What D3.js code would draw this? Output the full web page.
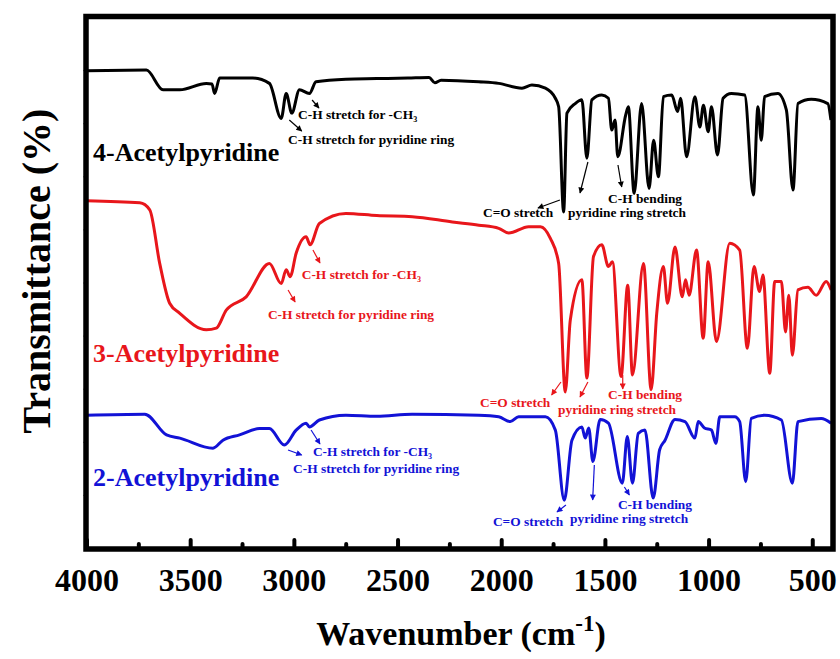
<!DOCTYPE html>
<html>
<head>
<meta charset="utf-8">
<script src="https://cdn.jsdelivr.net/npm/d3@7.9.0/dist/d3.min.js"></script>
<style>
  body { margin: 0; background: #fff; }
  svg { display: block; font-family: "Liberation Serif", "Times New Roman", serif; font-weight: bold; }
</style>
</head>
<body>
<svg id="chart" width="840" height="659"></svg>
<script>
// wavenumber (cm-1) and transmittance (arbitrary offset units)
const acetyl4 = [
  [4000, 89.9], [3711, 90.0], [3631, 86.3], [3550, 86.3], [3422, 87.5], [3395, 87.4],
  [3382, 85.6], [3358, 88.5], [3198, 88.5], [3118, 87.5], [3061, 80.9], [3037, 85.6],
  [3010, 81.9], [2973, 86.3], [2925, 85.6], [2893, 87.8], [2749, 88.3], [2600, 88.4],
  [2450, 88.5], [2348, 88.6], [2320, 87.6], [2290, 88.1], [2108, 87.8], [2012, 87.5],
  [1900, 86.6], [1852, 87.2], [1787, 86.6], [1739, 84.7], [1723, 83.1], [1699, 63.3],
  [1683, 81.9], [1643, 83.7], [1611, 84.4], [1587, 73.4], [1563, 84.4], [1515, 85.3],
  [1483, 84.7], [1467, 78.7], [1451, 80.6], [1438, 73.7], [1400, 81.5], [1387, 83.1],
  [1359, 66.8], [1323, 83.7], [1287, 67.7], [1265, 76.8], [1242, 69.9], [1218, 85.0],
  [1178, 85.3], [1149, 82.2], [1135, 84.7], [1106, 73.7], [1066, 85.0], [1042, 79.3],
  [1025, 83.4], [1002, 78.4], [986, 83.1], [957, 74.0], [930, 84.7], [890, 85.6],
  [826, 85.3], [784, 66.5], [762, 83.1], [746, 76.8], [730, 85.0], [666, 85.6],
  [625, 82.5], [593, 67.4], [569, 83.7], [505, 84.5], [425, 83.7], [410, 80.6]
];
const acetyl3 = [
  [4000, 65.4], [3743, 65.0], [3695, 63.7], [3647, 53.6], [3599, 46.1], [3550, 44.2],
  [3422, 41.1], [3374, 41.4], [3326, 44.8], [3230, 47.3], [3118, 53.6], [3061, 49.8],
  [3037, 52.4], [3018, 51.1], [2989, 55.5], [2941, 58.6], [2922, 57.1], [2877, 61.1],
  [2749, 63.0], [2600, 62.6], [2429, 62.4], [2236, 61.4], [2108, 60.8], [2012, 60.2],
  [1964, 59.3], [1868, 60.5], [1811, 60.5], [1763, 58.3], [1723, 53.6], [1691, 29.4],
  [1667, 42.9], [1611, 50.5], [1587, 32.0], [1555, 54.9], [1515, 57.1], [1483, 53.0],
  [1464, 53.9], [1422, 32.3], [1390, 49.5], [1367, 32.6], [1314, 53.6], [1277, 29.8],
  [1250, 44.2], [1218, 53.0], [1198, 46.1], [1162, 56.7], [1127, 47.3], [1111, 50.5],
  [1094, 47.6], [1058, 56.1], [1026, 39.5], [1002, 53.9], [962, 38.9], [898, 57.4],
  [850, 56.1], [813, 37.6], [781, 53.0], [754, 48.3], [738, 51.4], [705, 32.9],
  [681, 50.2], [649, 50.2], [629, 40.7], [613, 47.6], [596, 36.3], [569, 48.6],
  [521, 49.1], [481, 47.6], [433, 50.2], [409, 48.6]
];
const acetyl2 = [
  [4000, 25.0], [3719, 25.2], [3614, 21.3], [3550, 20.7], [3390, 18.8], [3342, 20.3],
  [3262, 21.3], [3166, 22.5], [3118, 22.5], [3046, 19.4], [2989, 22.2], [2941, 23.5],
  [2925, 22.8], [2877, 24.1], [2749, 25.0], [2600, 24.8], [2430, 25.2], [2108, 25.0],
  [2012, 24.7], [1956, 23.8], [1916, 24.7], [1787, 24.7], [1739, 22.2], [1696, 9.0],
  [1659, 20.3], [1611, 22.8], [1595, 20.7], [1578, 22.6], [1558, 16.3], [1523, 24.2],
  [1483, 23.5], [1416, 12.2], [1392, 21.0], [1367, 12.2], [1339, 21.6], [1307, 22.2],
  [1267, 9.4], [1236, 18.5], [1210, 20.3], [1162, 24.2], [1114, 23.8], [1066, 20.7],
  [1050, 23.8], [1020, 22.6], [986, 22.2], [965, 19.7], [946, 24.7], [874, 24.7],
  [850, 23.8], [821, 12.5], [794, 24.4], [730, 25.0], [649, 24.1], [596, 12.2],
  [569, 23.8], [457, 24.4], [409, 23.5]
];

const seriesNames = ["4-Acetylpyridine", "3-Acetylpyridine", "2-Acetylpyridine"];
const seriesColors = ["#000000", "#e8161b", "#1212d6"];
const majorTicks = [4000, 3500, 3000, 2500, 2000, 1500, 1000, 500];
const minorTicks = [3750, 3250, 2750, 2250, 1750, 1250, 750];

const svg = d3.select("#chart");
const x = d3.scaleLinear().domain([4000, 400]).range([86.5, 833]);
const y = d3.scaleLinear().domain([0, 100]).range([548, 17]);

const defs = svg.append("defs");
seriesColors.forEach((c, i) => {
  defs.append("marker").attr("id", "arr" + i)
    .attr("viewBox", "0 0 10 10").attr("refX", 9).attr("refY", 5)
    .attr("markerWidth", 7).attr("markerHeight", 5).attr("orient", "auto")
    .append("path").attr("d", "M0,0L10,5L0,10z").attr("fill", c);
});

// faint ticks on left
svg.append("g").attr("transform", "translate(86,0)")
  .call(d3.axisLeft(y).tickValues([10, 20, 30, 40, 50, 60, 70, 80, 90]).tickSize(3).tickFormat(""))
  .call(g => g.select(".domain").remove())
  .call(g => g.selectAll("line").attr("stroke", "#888").attr("stroke-width", 1));

const line = d3.line().x(d => x(d[0])).y(d => y(d[1])).curve(d3.curveMonotoneX);
[acetyl4, acetyl3, acetyl2].forEach((s, i) => {
  svg.append("path").datum(s).attr("d", line)
    .attr("fill", "none").attr("stroke", seriesColors[i])
    .attr("stroke-width", 3).attr("stroke-linejoin", "round");
});

// bottom axis, ticks inward
svg.append("g").attr("transform", "translate(0,549)")
  .call(d3.axisBottom(x).tickValues(majorTicks).tickSize(-9).tickPadding(19).tickFormat(d3.format("d")))
  .call(g => g.select(".domain").remove())
  .call(g => g.selectAll(".tick line").attr("stroke", "#000").attr("stroke-width", 4).attr("stroke-linecap", "round"))
  .call(g => g.selectAll(".tick text").attr("fill", "#000")
    .style("font-family", "Liberation Serif, serif").style("font-weight", "bold").style("font-size", "32px"));
svg.append("g").attr("transform", "translate(0,549)")
  .call(d3.axisBottom(x).tickValues(minorTicks).tickSize(-5).tickFormat(""))
  .call(g => g.select(".domain").remove())
  .call(g => g.selectAll(".tick line").attr("stroke", "#000").attr("stroke-width", 4).attr("stroke-linecap", "round"));

// frame
svg.append("rect").attr("x", 86).attr("y", 16.5).attr("width", 747).attr("height", 532.5)
  .attr("fill", "none").attr("stroke", "#000").attr("stroke-width", 5.5);

// axis titles
const xt = svg.append("text").attr("x", 461).attr("y", 645).attr("text-anchor", "middle")
  .style("font-size", "34px").text("Wavenumber (cm");
xt.append("tspan").attr("dy", -14).style("font-size", "23px").text("-1");
xt.append("tspan").attr("dy", 14).text(")");
svg.append("text").attr("transform", "translate(50,271) rotate(-90)").attr("text-anchor", "middle")
  .style("font-size", "40px").text("Transmittance (%)");

// compound names
const nameY = [161, 362, 486];
seriesNames.forEach((n, i) => {
  svg.append("text").attr("x", 93).attr("y", nameY[i]).attr("fill", seriesColors[i])
    .style("font-size", "26px").text(n);
});

// annotations: [series, text, x-anchor wavenumber, baseline px]
const notes = [
  [0, "C-H stretch for -CH", 2980, 119], [0, "C-H stretch for pyridine ring", 3028, 144],
  [0, "C=O stretch", 2088, 216.5], [0, "pyridine ring stretch", 1678, 217], [0, "C-H bending", 1485, 203],
  [1, "C-H stretch for -CH", 2962, 279], [1, "C-H stretch for pyridine ring", 3125, 319],
  [1, "C=O stretch", 2102, 406.5], [1, "pyridine ring stretch", 1726, 414], [1, "C-H bending", 1485, 399],
  [2, "C-H stretch for -CH", 2908, 456], [2, "C-H stretch for pyridine ring", 3004, 472.5],
  [2, "C=O stretch", 2040, 525.5], [2, "pyridine ring stretch", 1668, 522.5], [2, "C-H bending", 1437, 509]
];
notes.forEach(([s, t, w, b]) => {
  const el = svg.append("text").attr("x", x(w)).attr("y", b).attr("fill", seriesColors[s])
    .style("font-size", "13.4px").text(t);
  if (t.endsWith("CH")) {
    el.append("tspan").attr("dy", 3).style("font-size", "8px").text("3");
  }
});

// arrows: [series, from w, from px y, to w, to px y]
const arrows = [
  [0, 2912, 100, 2879, 108], [0, 3022, 120, 2962, 131],
  [0, 1717, 200, 1823, 208], [0, 1582, 162, 1620, 193], [0, 1437, 165, 1419, 187],
  [1, 2908, 250, 2874, 263], [1, 3028, 290, 2994, 302],
  [1, 1712, 382, 1757, 395], [1, 1582, 382, 1620, 397], [1, 1414, 375, 1414, 389],
  [2, 2917, 430, 2874, 444], [2, 3028, 450, 2962, 455],
  [2, 1688, 505, 1731, 512], [2, 1551, 465, 1559, 500], [2, 1406, 487, 1382, 495]
];
arrows.forEach(([s, w0, y0, w1, y1]) => {
  svg.append("line").attr("x1", x(w0)).attr("y1", y0).attr("x2", x(w1)).attr("y2", y1)
    .attr("stroke", seriesColors[s]).attr("stroke-width", 1.2)
    .attr("marker-end", `url(#arr${s})`);
});
</script>
</body>
</html>
